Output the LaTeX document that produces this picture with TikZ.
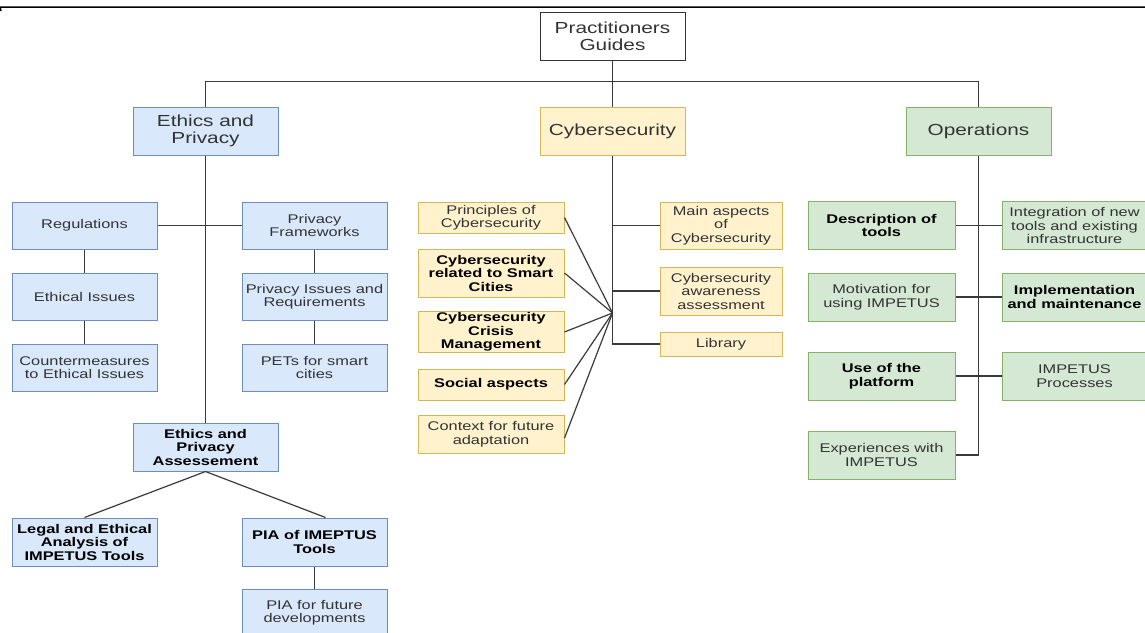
\documentclass[tikz,border=0pt]{standalone}
\usepackage{fontspec}
\setmainfont{Liberation Sans}[FakeStretch=1.3]
\definecolor{bfill}{HTML}{DAE8FC}
\definecolor{bline}{HTML}{6C8EBF}
\definecolor{yfill}{HTML}{FFF2CC}
\definecolor{yline}{HTML}{D6B656}
\definecolor{gfill}{HTML}{D5E8D4}
\definecolor{gline}{HTML}{82B366}
\definecolor{lnc}{HTML}{3A3A3A}
\definecolor{txc}{HTML}{333333}
\begin{document}
\begin{tikzpicture}[x=1pt,y=-1pt,
  box/.style={draw, line width=1pt, minimum width=145pt, minimum height=47pt, inner sep=1pt, align=center,
    font=\fontsize{12.6}{13.5}\selectfont, text=txc},
  bigbox/.style={box, minimum height=48pt, font=\fontsize{16}{17}\selectfont},
  bld/.style={font=\fontsize{12.6}{13.5}\selectfont\bfseries, text=black},
  bluebox/.style={box, fill=bfill, draw=bline},
  yelbox/.style={box, fill=yfill, draw=yline},
  grnbox/.style={box, fill=gfill, draw=gline},
  conn/.style={draw=lnc, line width=1.2pt}]
\useasboundingbox (0,0) rectangle (1145,632);
\clip (0,0) rectangle (1145,632);
\coordinate (tl) at (0,7);
\coordinate (tr) at (1145,7);
\coordinate (tk) at (1,11);
\draw[line width=1.5pt] (tk) -- (tl) -- (tr);

% top level
\node[bigbox, fill=white, draw=black!80, text=txc] (prac) at (612.5,36) {Practitioners\\Guides};
\node[bigbox, bluebox, minimum height=48pt, font=\fontsize{16}{17}\selectfont] (ep) at (205.5,131) {Ethics and\\Privacy};
\node[bigbox, yelbox, minimum height=48pt, font=\fontsize{16}{17}\selectfont] (cyb) at (612.5,131) {Cybersecurity};
\node[bigbox, grnbox, minimum height=48pt, font=\fontsize{16}{17}\selectfont] (ops) at (978.5,131) {Operations};

% ethics column
\node[bluebox] (reg) at (84.5,225.5) {Regulations};
\node[bluebox] (pf) at (314.5,225.5) {Privacy\\Frameworks};
\node[bluebox] (ethi) at (84.5,296.5) {Ethical Issues};
\node[bluebox] (pir) at (314.5,296.5) {Privacy Issues and\\Requirements};
\node[bluebox] (cm) at (84.5,367.5) {Countermeasures\\to Ethical Issues};
\node[bluebox] (pets) at (314.5,367.5) {PETs for smart\\cities};
\node[bluebox, bld, minimum height=48pt] (epa) at (205.5,447) {Ethics and\\Privacy\\Assessement};
\node[bluebox, bld, minimum height=48pt] (legal) at (84.5,542) {Legal and Ethical\\Analysis of\\IMPETUS Tools};
\node[bluebox, bld, minimum height=48pt] (pia) at (314.5,542) {PIA of IMEPTUS\\Tools};
\node[bluebox] (piaf) at (314.5,612.5) {PIA for future\\developments};

% cyber column
\node[yelbox, minimum width=146pt, minimum height=31pt] (prin) at (491,217.5) {Principles of\\Cybersecurity};
\node[yelbox, bld, minimum width=146pt, minimum height=48pt] (scity) at (491,273) {Cybersecurity\\related to Smart\\Cities};
\node[yelbox, bld, minimum width=146pt, minimum height=40pt] (crisis) at (491,332) {Cybersecurity\\Crisis\\Management};
\node[yelbox, bld, minimum width=146pt, minimum height=31pt] (social) at (491,384.5) {Social aspects};
\node[yelbox, minimum width=146pt, minimum height=38pt] (context) at (491,434) {Context for future\\adaptation};
\node[yelbox, minimum width=122pt, minimum height=47pt] (main) at (721,225.5) {Main aspects\\of\\Cybersecurity};
\node[yelbox, minimum width=122pt, minimum height=48pt] (aware) at (721,291) {Cybersecurity\\awareness\\assessment};
\node[yelbox, minimum width=122pt, minimum height=24pt] (lib) at (721,344) {Library};
\coordinate (hub) at (612.5,313);

% operations column
\node[grnbox, bld, minimum width=147pt, minimum height=48pt] (desc) at (881.5,225.5) {Description of\\tools};
\node[grnbox, minimum width=147pt, minimum height=48pt] (motiv) at (881.5,297) {Motivation for\\using IMPETUS};
\node[grnbox, bld, minimum width=147pt, minimum height=48pt] (use) at (881.5,376) {Use of the\\platform};
\node[grnbox, minimum width=147pt, minimum height=48pt] (exper) at (881.5,455) {Experiences with\\IMPETUS};
\node[grnbox, minimum height=48pt] (integ) at (1074.5,225.5) {Integration of new\\tools and existing\\infrastructure};
\node[grnbox, bld, minimum height=48pt] (impl) at (1074.5,297) {Implementation\\and maintenance};
\node[grnbox, minimum height=48pt] (proc) at (1074.5,376) {IMPETUS\\Processes};

% connectors
\draw[conn] (prac.south) -- (cyb.north);
\draw[conn] (ep.north) -- ++(0,-25) -| (ops.north);
\draw[conn] (ep.south) -- (epa.north);
\draw[conn] (reg.east) -- (pf.west);
\draw[conn] (reg) -- (ethi);
\draw[conn] (ethi) -- (cm);
\draw[conn] (pf) -- (pir);
\draw[conn] (pir) -- (pets);
\draw[conn] (epa.south) -- (legal.north);
\draw[conn] (epa.south) -- ([xshift=11pt]pia.north);
\draw[conn] (pia) -- (piaf);

\draw[conn] (cyb.south) |- (lib.west);
\draw[conn] (main.west) -- (main.west -| cyb.south);
\draw[conn] (aware.west) -- (aware.west -| cyb.south);
\draw[conn] (prin.east) -- (hub);
\draw[conn] (scity.east) -- (hub);
\draw[conn] (crisis.east) -- (hub);
\draw[conn] (social.east) -- (hub);
\draw[conn] ([yshift=-4pt]context.east) -- (hub);

\draw[conn] (ops.south) |- (exper.east);
\draw[conn] (desc.east) -- (integ.west);
\draw[conn] (motiv.east) -- (impl.west);
\draw[conn] (use.east) -- (proc.west);
\end{tikzpicture}
\end{document}
